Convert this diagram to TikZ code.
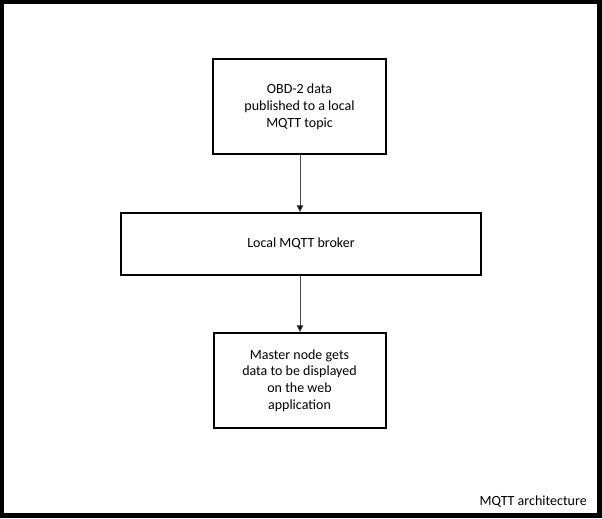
\documentclass[tikz,border=0pt]{standalone}
\usepackage{fontspec}
\setmainfont{Carlito}
\usetikzlibrary{arrows.meta}
\tikzset{
  box/.style={draw=black, line width=1.5pt, fill=white, align=center, inner sep=0pt,
    font=\fontsize{10.5pt}{12.6pt}\selectfont},
  conn/.style={draw=black!70, line width=0.6pt, -{Triangle[length=5pt,width=5pt,fill=black]}}
}
\begin{document}
\begin{tikzpicture}[x=0.75pt,y=-0.75pt]
\useasboundingbox (0,0) rectangle (602,518);
\fill[black] (0,0) rectangle (602,518);
\fill[white] (4,4) rectangle (597,513);
\node[box, minimum width=173*0.75pt, minimum height=95*0.75pt] (obd) at (299.5,106.5)
  {OBD-2 data\\published to a local\\MQTT topic};
\node[box, minimum width=360*0.75pt, minimum height=62*0.75pt] (broker) at (301,244)
  {Local MQTT broker};
\node[box, minimum width=172*0.75pt, minimum height=95*0.75pt] (master) at (299.5,380.5)
  {Master node gets\\data to be displayed\\on the web\\application};
\draw[conn] (obd.south -| 300,0) -- (broker.north -| 300,0);
\draw[conn] (broker.south -| 300,0) -- (master.north -| 300,0);
\node[anchor=base east, font=\fontsize{10.5pt}{12.6pt}\selectfont, inner sep=0pt] (cap) at (587,505) {MQTT architecture};
\end{tikzpicture}
\end{document}
